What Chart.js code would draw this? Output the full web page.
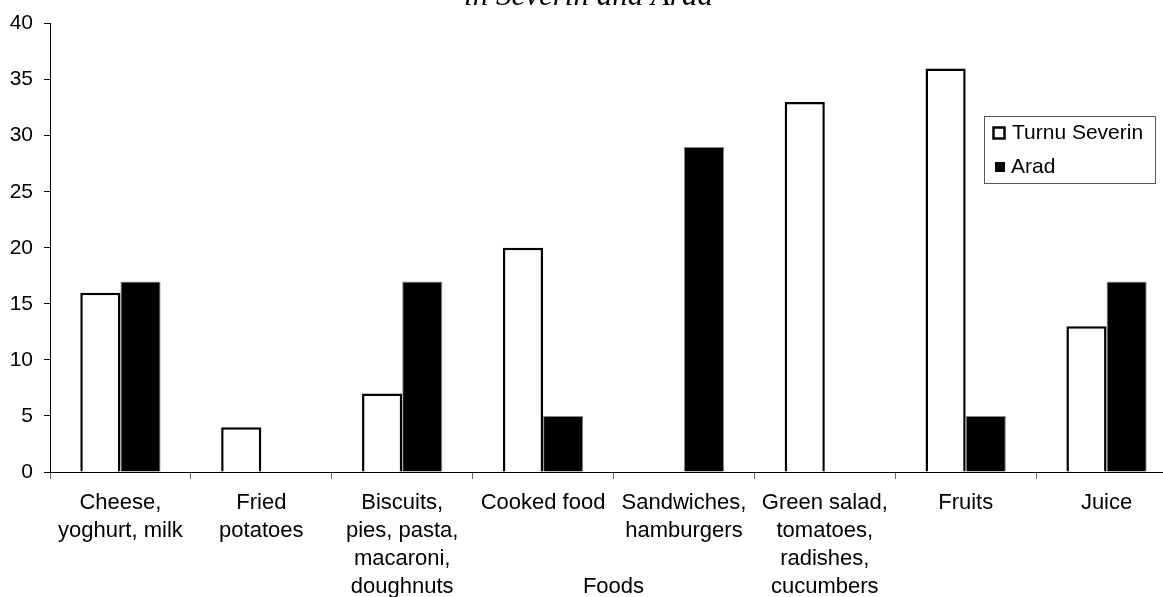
<!DOCTYPE html>
<html>
<head>
<meta charset="utf-8">
<script src="https://cdn.jsdelivr.net/npm/chart.js@4/dist/chart.umd.min.js"></script>
<style>
  html, body { margin: 0; padding: 0; background: #fff; overflow: hidden; }
  #wrap { position: relative; width: 1177px; height: 597px; }
</style>
</head>
<body>
<div id="wrap"><canvas id="chart"></canvas></div>
<script>
// Food groups on the horizontal axis (multi-line labels)
const categories = [
  ["Cheese,", "yoghurt, milk"],
  ["Fried", "potatoes"],
  ["Biscuits,", "pies, pasta,", "macaroni,", "doughnuts"],
  ["Cooked food"],
  ["Sandwiches,", "hamburgers"],
  ["Green salad,", "tomatoes,", "radishes,", "cucumbers"],
  ["Fruits"],
  ["Juice"]
];

// Values per city
const turnuSeverin = [16, 4, 7, 20, 0, 33, 36, 13];
const arad = [17, 0, 17, 5, 29, 0, 5, 17];

// Value axis ticks
const yTicks = [0, 5, 10, 15, 20, 25, 30, 35, 40];

const titleText = "in Severin and Arad";
const xAxisTitle = "Foods";

const FONT = "Arial, 'Liberation Sans', sans-serif";

// Title (top line sits above the canvas edge)
const titlePlugin = {
  id: 'topTitle',
  afterDraw(chart) {
    const ctx = chart.ctx;
    ctx.save();
    ctx.font = "italic 31px 'Times New Roman', 'Liberation Serif', serif";
    ctx.fillStyle = '#000';
    ctx.textAlign = 'center';
    ctx.textBaseline = 'alphabetic';
    ctx.fillText(titleText, chart.width / 2, 5);
    ctx.restore();
  }
};

// Axis caption drawn under the category labels
const axisCaptionPlugin = {
  id: 'axisCaption',
  afterDraw(chart) {
    const ctx = chart.ctx;
    const a = chart.chartArea;
    ctx.save();
    ctx.font = "22px " + FONT;
    ctx.fillStyle = '#000';
    ctx.textAlign = 'center';
    ctx.textBaseline = 'middle';
    ctx.fillText(xAxisTitle, (a.left + a.right) / 2, 587);
    ctx.restore();
  }
};

// Boxed legend inside the plot area
const boxLegendPlugin = {
  id: 'boxLegend',
  afterDraw(chart) {
    const ctx = chart.ctx;
    const ds = chart.data.datasets;
    const x0 = 984, y0 = 116, w = 171, h = 67;
    ctx.save();
    ctx.fillStyle = '#fff';
    ctx.fillRect(x0, y0, w, h);
    ctx.strokeStyle = '#555';
    ctx.lineWidth = 1;
    ctx.strokeRect(x0 + 0.5, y0 + 0.5, w, h);

    ctx.font = "21px " + FONT;
    ctx.textAlign = 'left';
    ctx.textBaseline = 'middle';
    ctx.fillStyle = '#000';

    // first series: hollow square
    ctx.lineWidth = 2.5;
    ctx.strokeStyle = '#000';
    ctx.strokeRect(993.5, 127.5, 11, 11);
    ctx.fillText(ds[0].label, 1012, 133);

    // second series: filled square
    ctx.fillStyle = '#000';
    ctx.fillRect(995, 162, 10, 10);
    ctx.fillText(ds[1].label, 1011, 167);
    ctx.restore();
  }
};

new Chart(document.getElementById('chart'), {
  type: 'bar',
  data: {
    labels: categories,
    datasets: [
      {
        label: 'Turnu Severin',
        data: turnuSeverin,
        backgroundColor: '#ffffff',
        borderColor: '#000000',
        borderWidth: 2.5,
        categoryPercentage: 0.57,
        barPercentage: 1.0
      },
      {
        label: 'Arad',
        data: arad,
        backgroundColor: '#000000',
        borderColor: '#8a8a8a',
        borderWidth: 1,
        categoryPercentage: 0.57,
        barPercentage: 1.0
      }
    ]
  },
  options: {
    responsive: true,
    maintainAspectRatio: false,
    animation: false,
    layout: { padding: { top: 22, left: 0, right: 0, bottom: 0 } },
    plugins: {
      legend: { display: false },
      title: { display: false },
      tooltip: { enabled: false }
    },
    scales: {
      x: {
        afterFit(scale) { scale.height = 125; },
        grid: {
          display: true,
          offset: true,
          drawOnChartArea: false,
          drawTicks: true,
          tickLength: 7,
          color: '#666'
        },
        border: { display: true, color: '#000', width: 1 },
        ticks: {
          color: '#000',
          font: { family: FONT, size: 22, lineHeight: 1.27 },
          padding: 10,
          maxRotation: 0,
          autoSkip: false
        }
      },
      y: {
        min: 0,
        max: 40,
        afterFit(scale) { scale.width = 50; },
        afterBuildTicks(scale) { scale.ticks = yTicks.map(v => ({ value: v })); },
        grid: {
          display: true,
          drawOnChartArea: false,
          drawTicks: true,
          tickLength: 6,
          color: '#000'
        },
        border: { display: true, color: '#000', width: 1 },
        ticks: {
          color: '#000',
          font: { family: FONT, size: 21 },
          padding: 11
        }
      }
    }
  },
  plugins: [titlePlugin, axisCaptionPlugin, boxLegendPlugin]
});
</script>
</body>
</html>
